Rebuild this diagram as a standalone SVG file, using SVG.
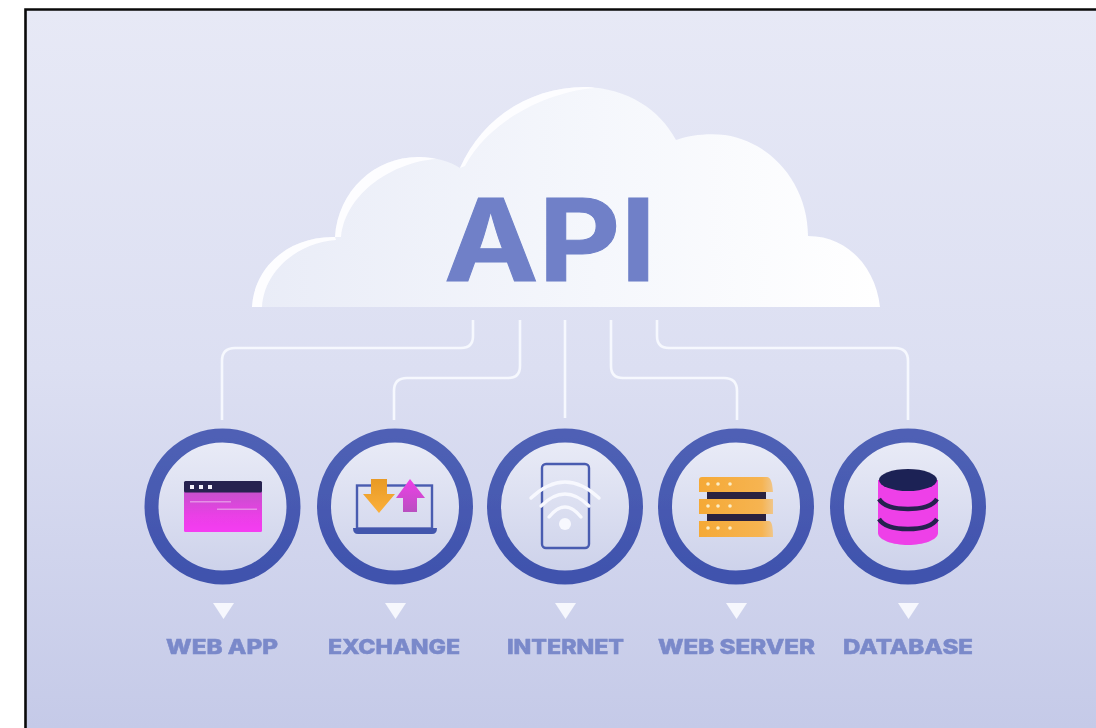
<svg xmlns="http://www.w3.org/2000/svg" width="1096" height="728" viewBox="0 0 1096 728">
<style>
.ring{fill:url(#disc);stroke:url(#ringG);stroke-width:14}
.wire{fill:none;stroke:#f6f8fe;stroke-width:2.6}
.tri{fill:#f6f7fd}
.lbl{font-family:"Inter","DejaVu Sans",sans-serif;font-weight:800;font-size:20px;fill:#7a89ca;stroke:#7a89ca;stroke-width:.5}
.out{fill:none;stroke:#4a5cb0;stroke-width:2.4}
.wifi{fill:none;stroke:#f7f8fe;stroke-width:3.4;stroke-linecap:round}
.dark{fill:#2a2040}
.mag{fill:#ee3fe8}
.slab{fill:url(#orange)}
.d{fill:#fbeec8}
</style>
<defs>
<linearGradient id="bg" x1="0" y1="0" x2="0" y2="1"><stop offset="0" stop-color="#e7e9f6"/><stop offset=".5" stop-color="#dcdff2"/><stop offset="1" stop-color="#c5cae8"/></linearGradient>
<linearGradient id="cloud" x1="0" y1="0" x2="1" y2="0"><stop offset="0" stop-color="#e9ecf7"/><stop offset=".55" stop-color="#f5f7fc"/><stop offset="1" stop-color="#ffffff"/></linearGradient>
<linearGradient id="disc" x1="0" y1="0" x2="0" y2="1"><stop offset="0" stop-color="#eaecf7"/><stop offset="1" stop-color="#ccd1ea"/></linearGradient>
<linearGradient id="ringG" x1="0" y1="0" x2="0" y2="1"><stop offset="0" stop-color="#4f61b5"/><stop offset="1" stop-color="#3f52ad"/></linearGradient>
<linearGradient id="win" x1="0" y1="0" x2="0" y2="1"><stop offset="0" stop-color="#c552cc"/><stop offset=".6" stop-color="#ea3fe6"/><stop offset="1" stop-color="#f53df2"/></linearGradient>
<linearGradient id="orange" x1="0" y1="0" x2="1" y2="0"><stop offset="0" stop-color="#f5a936"/><stop offset=".85" stop-color="#f6b452"/><stop offset="1" stop-color="#f0c68a"/></linearGradient>
<linearGradient id="arrO" x1="0" y1="0" x2="0" y2="1"><stop offset="0" stop-color="#e89a25"/><stop offset="1" stop-color="#fbb03b"/></linearGradient>
<linearGradient id="arrM" x1="0" y1="0" x2="0" y2="1"><stop offset="0" stop-color="#ef3fe8"/><stop offset="1" stop-color="#b94fc0"/></linearGradient>
<filter id="soft" filterUnits="userSpaceOnUse" x="0" y="0" width="1096" height="728"><feGaussianBlur stdDeviation="0.7"/></filter>
</defs>
<rect width="1096" height="728" fill="#fff"/>
<g id="backdrop">
<rect x="25" y="9" width="1071" height="719" fill="url(#bg)"/>
<path d="M25.500 728V9.500H1096" fill="none" stroke="#0a0a0a" stroke-width="2.600"/>
</g>
<g filter="url(#soft)">
<g id="cloud-node">
<path d="M252 307C254 268 288 236 335 237C338 190 376 156 420 157C435 157 449 161 460 168C482 118 530 87 585 87C628 88 660 110 676 140C690 135 708 133 725 135C772 142 808 185 808 236C848 236 876 268 880 307Z" fill="url(#cloud)"/>
<path d="M252 307C254 268 288 236 335 237L336 240C296 243 264 272 262 307Z" fill="#fdfdff"/>
<path d="M335 237C338 190 376 156 420 157C426 157 431 158 436 159C394 162 346 192 341 237Z" fill="#fdfdff"/>
<path d="M460 168C482 118 530 87 585 87C589 87 592 87 595 88C545 92 488 122 465 166Z" fill="#fdfdff"/>
<text x="444" y="280.500" font-family="Inter,'Liberation Sans',sans-serif" font-weight="700" font-size="114" fill="#6f80c8" stroke="#6f80c8" stroke-width="1" textLength="212" lengthAdjust="spacingAndGlyphs">API</text>
</g>
<g id="connectors">
<path class="wire" d="M473 320V336Q473 348 461 348H235Q222 348 222 361V420"/>
<path class="wire" d="M520 320V366Q520 378 508 378H407Q394 378 394 391V420"/>
<path class="wire" d="M565 320V418"/>
<path class="wire" d="M611 320V366Q611 378 623 378H724Q737 378 737 391V420"/>
<path class="wire" d="M657 320V336Q657 348 669 348H895Q908 348 908 361V420"/>
</g>
<g id="web-app">
<circle class="ring" cx="222.500" cy="506.500" r="71"/>
<rect x="184" y="491" width="78" height="41" rx="1.500" fill="url(#win)"/>
<rect class="dark" x="184" y="481" width="78" height="11.500" rx="1.500" style="fill:#25204f"/>
<g fill="#f4f2fb"><rect x="190" y="485" width="4" height="4"/><rect x="199" y="485" width="4" height="4"/><rect x="208" y="485" width="4" height="4"/></g>
<g fill="#e58fe6"><rect x="190" y="501" width="41" height="1.500"/><rect x="217" y="508.500" width="40" height="1.500"/></g>
<polygon class="tri" points="213,603 234,603 223.500,619"/>
<text class="lbl" x="166" y="654" textLength="112" lengthAdjust="spacingAndGlyphs">WEB APP</text>
</g>
<g id="exchange">
<circle class="ring" cx="395" cy="506.500" r="71"/>
<rect class="out" x="357" y="485.500" width="75" height="43"/>
<path d="M353 528H437Q437 534 432 534H358Q353 534 353 528Z" fill="#4356ad"/>
<polygon points="371,479 387,479 387,494 395,494 379,513 363,494 371,494" fill="url(#arrO)"/>
<polygon points="410,479 425,498 417,498 417,512 403,512 403,498 396,498" fill="url(#arrM)"/>
<polygon class="tri" points="385,603 406,603 395.500,619"/>
<text class="lbl" x="328" y="654" textLength="132" lengthAdjust="spacingAndGlyphs">EXCHANGE</text>
</g>
<g id="internet">
<circle class="ring" cx="565" cy="506.500" r="71"/>
<rect class="out" x="542" y="464" width="47" height="84" rx="4"/>
<path class="wifi" d="M531 498Q565 466 599 498"/>
<path class="wifi" d="M541 506Q565 482 589 506"/>
<path class="wifi" d="M549 517Q565 497 581 517"/>
<circle cx="565" cy="524" r="6" fill="#f7f8fe"/>
<polygon class="tri" points="555,603 576,603 565.500,619"/>
<text class="lbl" x="507" y="654" textLength="117" lengthAdjust="spacingAndGlyphs">INTERNET</text>
</g>
<g id="web-server">
<circle class="ring" cx="736" cy="506.500" r="71"/>
<rect class="dark" x="707" y="492" width="59" height="7"/>
<rect class="dark" x="707" y="514" width="59" height="7"/>
<path class="slab" d="M699 480Q699 477 702 477H767Q772 477 773 492H699Z"/>
<path class="slab" d="M699 499H773V514H699Z"/>
<path class="slab" d="M699 521H769Q773 521 773 537H699Z"/>
<circle class="d" cx="708" cy="484" r="1.800"/><circle class="d" cx="718" cy="484" r="1.800"/><circle class="d" cx="730" cy="484" r="1.800"/>
<circle class="d" cx="708" cy="506" r="1.800"/><circle class="d" cx="718" cy="506" r="1.800"/><circle class="d" cx="730" cy="506" r="1.800"/>
<circle class="d" cx="708" cy="528" r="1.800"/><circle class="d" cx="718" cy="528" r="1.800"/><circle class="d" cx="730" cy="528" r="1.800"/>
<polygon class="tri" points="726,603 747,603 736.500,619"/>
<text class="lbl" x="658" y="654" textLength="157" lengthAdjust="spacingAndGlyphs">WEB SERVER</text>
</g>
<g id="database">
<circle class="ring" cx="908" cy="506.500" r="71"/>
<path class="mag" d="M878 480V533C878 540 893 545 908 545C923 545 938 540 938 533V480Z"/>
<path fill="none" stroke="#25204f" stroke-width="4.500" d="M879 499C884 507 897 509 908 509C919 509 932 507 937 499"/>
<path fill="none" stroke="#25204f" stroke-width="4.500" d="M879 519C884 527 897 529 908 529C919 529 932 527 937 519"/>
<ellipse cx="908" cy="480" rx="29" ry="11" fill="#1f2455"/>
<polygon class="tri" points="898,603 919,603 908.500,619"/>
<text class="lbl" x="843" y="654" textLength="130" lengthAdjust="spacingAndGlyphs">DATABASE</text>
</g>
</g>
</svg>
